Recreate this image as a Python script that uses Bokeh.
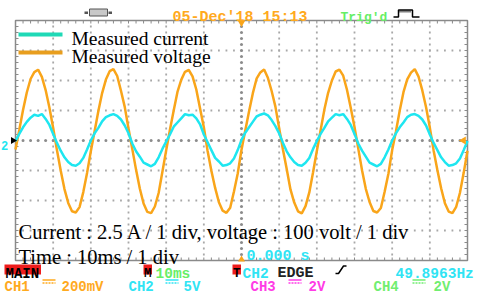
import numpy as np
from bokeh.plotting import figure
from bokeh.models import Range1d, Label
from bokeh.embed import file_html
from bokeh.resources import INLINE

# ---------------- data ----------------
time_ms = list(range(0, 121))          # sample instants, 1 ms apart (10 ms / div, 12 div)

voltage_v = [
    -30, 35, 102, 160, 205, 228, 236, 212, 168, 110, 42, -32, -100, -162, -208, -236, -240, -222, -172, -108,
    -36, 31, 98, 158, 203, 231, 238, 215, 166, 112, 40, -28, -97, -160, -210, -238, -242, -220, -175, -104,
    -33, 36, 100, 162, 202, 229, 235, 214, 170, 107, 44, -35, -101, -158, -206, -234, -241, -224, -170, -110,
    -31, 33, 97, 157, 206, 227, 237, 209, 165, 113, 41, -30, -95, -163, -207, -236, -243, -219, -173, -106,
    -35, 34, 103, 159, 200, 230, 236, 216, 169, 109, 45, -27, -99, -161, -205, -235, -240, -225, -171, -111,
    -32, 30, 99, 161, 204, 226, 238, 213, 167, 111, 43, -33, -98, -159, -209, -237, -242, -221, -174, -107,
    -34,
]

current_a = [
    -0.05, 0.55, 1.10, 1.55, 1.90, 2.15, 2.05, 2.20, 1.80, 1.30, 0.55, -0.20, -0.85, -1.40, -1.80, -2.05, -2.10, -1.90, -1.45, -0.75,
    0.00, 0.60, 1.05, 1.60, 1.95, 2.10, 2.20, 2.05, 1.75, 1.25, 0.60, -0.25, -0.90, -1.35, -1.85, -2.00, -2.15, -1.95, -1.40, -0.70,
    -0.10, 0.50, 1.15, 1.50, 1.85, 2.20, 2.10, 2.15, 1.85, 1.35, 0.50, -0.15, -0.80, -1.45, -1.75, -2.10, -2.05, -1.90, -1.50, -0.80,
    0.05, 0.65, 1.10, 1.55, 2.00, 2.15, 2.25, 2.10, 1.70, 1.20, 0.60, -0.20, -0.90, -1.40, -1.80, -2.05, -2.10, -1.85, -1.45, -0.70,
    -0.05, 0.55, 1.05, 1.60, 1.90, 2.20, 2.10, 2.20, 1.80, 1.30, 0.55, -0.25, -0.85, -1.35, -1.85, -2.00, -2.15, -1.95, -1.40, -0.75,
    0.00, 0.60, 1.10, 1.50, 1.95, 2.15, 2.20, 2.05, 1.75, 1.25, 0.50, -0.20, -0.80, -1.40, -1.80, -2.10, -2.05, -1.90, -1.50, -0.80,
    -0.05,
]

series_names = ["Measured current", "Measured voltage"]
scale_lines = ["Current : 2.5 A / 1 div, voltage : 100 volt / 1 div", "Time : 10ms / 1 div"]
amps_per_div = 2.5
volts_per_div = 100
ms_per_div = 10
n_xdiv, n_ydiv = 12, 8

# ---------------- layout helpers (page pixels -> data units) ----------------
W, H = 480, 294
FL, FR, CY = 15, 467, 140
px_per_ms = (FR - FL) / (n_xdiv * ms_per_div)
px_per_div = 30.0

def X(px):
    return (px - FL) / px_per_ms

def Y(py):
    return (CY - py) / px_per_div

x0, x1 = X(0), X(W)
y0, y1 = Y(H), Y(0)

CYAN = "#1ee6f0"
ORANGE = "#f9a51a"
GRID = "#a8a8a8"
EDGE = "#8a8a8a"
MONO = "Liberation Mono"
SERIF = "Liberation Serif"

p = figure(width=W, height=H, x_range=Range1d(x0, x1), y_range=Range1d(y0, y1),
           output_backend="svg", toolbar_location=None, min_border=0,
           x_axis_type=None, y_axis_type=None, outline_line_color=None,
           background_fill_color="white", border_fill_color="white")
p.extra_y_ranges = {
    "amps": Range1d(y0 * amps_per_div, y1 * amps_per_div),
    "volts": Range1d(y0 * volts_per_div, y1 * volts_per_div),
}

# ---------------- graticule ----------------
xmax = n_xdiv * ms_per_div
ymax = n_ydiv / 2
minor_x = np.arange(0, xmax + 0.01, ms_per_div / 5)
minor_y = np.arange(-ymax, ymax + 0.01, 0.2)
inner_x = minor_x[1:-1]
inner_y = minor_y[1:-1]

hx, hy = [], []
for yy in range(-3, 4):
    if yy == 0:
        continue
    hx += list(inner_x)
    hy += [yy] * len(inner_x)
for k in range(1, n_xdiv):
    xx = k * ms_per_div
    if k == n_xdiv // 2:
        continue
    hx += [xx] * len(inner_y)
    hy += list(inner_y)
p.scatter(hx, hy, marker="square", size=1.8, fill_color=GRID, line_color=None)

cx = list(inner_x) + [xmax / 2] * len(inner_y)
cyv = [0] * len(inner_x) + list(inner_y)
p.scatter(cx, cyv, marker="circle", size=3, fill_color="#8c8c8c", line_color=None)

# edge ticks
tlen_y = 3 / px_per_div
tlen_x = 3 / px_per_ms
sx0 = list(inner_x) * 2 + [0] * len(inner_y) + [xmax] * len(inner_y)
sx1 = list(inner_x) * 2 + [tlen_x] * len(inner_y) + [xmax - tlen_x] * len(inner_y)
sy0 = [ymax] * len(inner_x) + [-ymax] * len(inner_x) + list(inner_y) * 2
sy1 = [ymax - tlen_y] * len(inner_x) + [-ymax + tlen_y] * len(inner_x) + list(inner_y) * 2
p.segment(sx0, sy0, sx1, sy1, line_color=EDGE, line_width=1)

p.quad(left=[0], right=[xmax], bottom=[-ymax], top=[ymax], fill_color=None,
       line_color=EDGE, line_width=1.5)

# ---------------- traces ----------------
p.line(time_ms, voltage_v, y_range_name="volts", line_color=ORANGE, line_width=2.5)
p.line(time_ms, current_a, y_range_name="amps", line_color=CYAN, line_width=2.5)

# ---------------- markers ----------------
p.scatter([xmax / 2], [Y(22)], marker="inverted_triangle", size=8, fill_color=ORANGE, line_color=None)
p.scatter([xmax / 2], [Y(259)], marker="triangle", size=7, fill_color=ORANGE, line_color=None)
p.scatter([X(463)], [0], marker="triangle", angle=np.pi / 2, size=8, fill_color=ORANGE, line_color=None)
p.scatter([X(12.5)], [0], marker="triangle", angle=-np.pi / 2, size=7, fill_color="black", line_color=None)
p.add_layout(Label(x=X(0.5), y=Y(145), text="2", text_font=MONO, text_font_size="12px",
                   text_font_style="bold", text_color=CYAN, text_baseline="alphabetic"))

# ---------------- legend ----------------
leg_cols = ["#1fd9b6", "#e89e1e"]
leg_y = [34, 52]
leg_base = [37.5, 56]
for name, col, ly, lb in zip(series_names, leg_cols, leg_y, leg_base):
    p.segment([X(18)], [Y(ly)], [X(62)], [Y(ly)], line_color=col, line_width=4)
    p.add_layout(Label(x=X(71), y=Y(lb), text=name, text_font=SERIF, text_font_size="19.5px",
                       text_color="black", text_baseline="alphabetic"))

for txt, base in zip(scale_lines, [231.5, 256.5]):
    p.add_layout(Label(x=X(18), y=Y(base), text=txt, text_font=SERIF, text_font_size="20.5px",
                       text_color="black", text_baseline="alphabetic"))

# ---------------- status texts ----------------
def status(txt, px, base, color, size="14.5px", style="bold"):
    p.add_layout(Label(x=X(px), y=Y(base), text=txt, text_font=MONO, text_font_size=size,
                       text_font_style=style, text_color=color, text_baseline="alphabetic"))

# top line
p.quad(left=[X(89)], right=[X(107)], top=[Y(8.5)], bottom=[Y(15.5)], fill_color="#c8c8c8",
       line_color="#555555", line_width=1)
p.quad(left=[X(84), X(108)], right=[X(87.5), X(111.5)], top=[Y(11), Y(11)], bottom=[Y(13.5), Y(13.5)],
       fill_color="#555555", line_color=None)
status("05-Dec'18 15:13", 172, 16.5, "#ffaa1e", "15px")
status("Trig'd", 340, 16.5, "#66ee66", "13px")
p.line([X(393), X(398), X(398), X(412), X(412), X(419)],
       [Y(16.5), Y(16.5), Y(9.5), Y(9.5), Y(16.5), Y(16.5)], line_color="black", line_width=1.5)
p.segment([X(399)], [Y(11)], [X(411)], [Y(11)], line_color="black", line_width=2, line_dash="1 1")

# inside bottom
status("0.000 s", 246, 256, "#30e4f4", "15px")

# bottom row 1
RED = "#ee1c1c"
p.quad(left=[X(4), X(143), X(232)], right=[X(40.5), X(151.5), X(240.5)],
       top=[Y(264)] * 3, bottom=[Y(274)] * 3, fill_color=RED, line_color=None)
status("MAIN", 5, 273, "black", "14px")
status("M", 143.5, 273, "black", "12.5px")
status("T", 232.5, 273, "black", "12.5px")
status("10ms", 155, 273, "#66ee66", "14.5px")
status("CH2", 242, 273, "#30e4f4", "14.5px")
status("EDGE", 277, 273, "#222222", "15px")
p.line([X(335), X(338), X(343), X(346)], [Y(273), Y(273), Y(265.5), Y(265.5)],
       line_color="black", line_width=1.5)
status("49.8963Hz", 395, 273, "#30e4f4", "14.5px")

# bottom row 2
row2 = [("CH1", "200mV", "#ffaa1e", 4, 42, 61),
        ("CH2", "5V", "#30e4f4", 128, 165, 183),
        ("CH3", "2V", "#ff3ce6", 250, 288, 308),
        ("CH4", "2V", "#70ee70", 373, 412, 433)]
for ch, sc, col, xch, xsym, xsc in row2:
    status(ch, xch, 286.5, col, "14px")
    p.segment([X(xsym)], [Y(279.5)], [X(xsym + 13)], [Y(279.5)], line_color=col, line_width=1.5)
    p.segment([X(xsym)], [Y(282.5)], [X(xsym + 13)], [Y(282.5)], line_color=col, line_width=1.5, line_dash="2 1")
    status(sc, xsc, 286.5, col, "14px")

open("out.html", "w").write(file_html(p, INLINE))
